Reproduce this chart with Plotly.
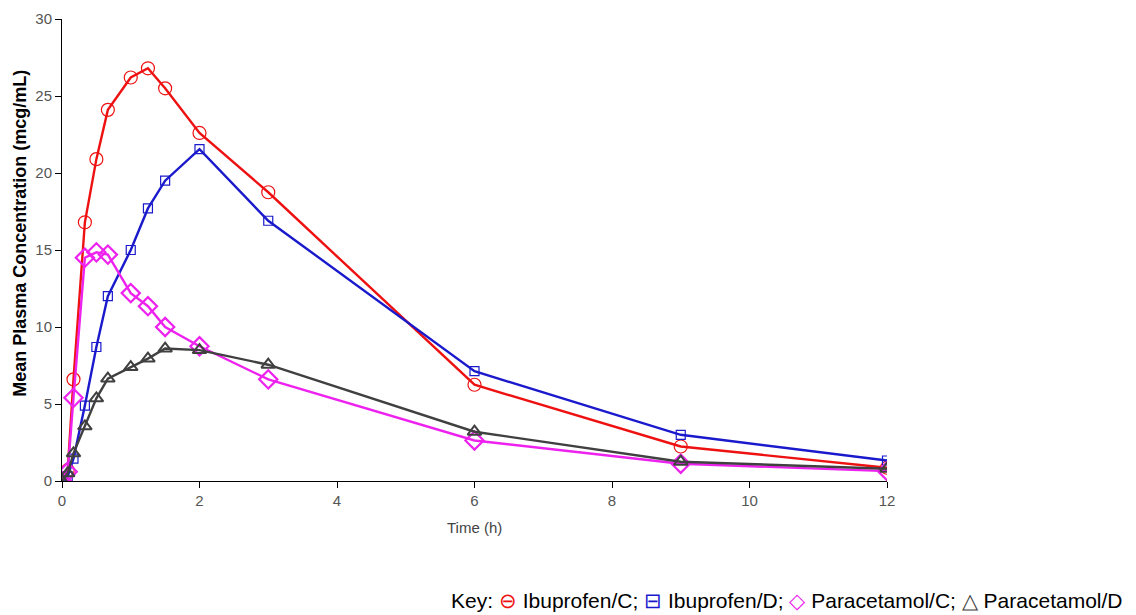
import plotly.graph_objects as go

time_h = [0, 0.083, 0.167, 0.333, 0.5, 0.667, 1, 1.25, 1.5, 2, 3, 6, 9, 12]
ibuprofen_c = [0, 0.7, 6.6, 16.8, 20.9, 24.1, 26.2, 26.8, 25.5, 22.6, 18.75, 6.25, 2.24, 0.86]
ibuprofen_d = [0, 0.3, 1.45, 4.9, 8.7, 12.0, 15.0, 17.7, 19.5, 21.55, 16.9, 7.13, 3.0, 1.33]
paracetamol_c = [0, 0.6, 5.4, 14.5, 14.85, 14.7, 12.2, 11.35, 10.0, 8.75, 6.6, 2.63, 1.12, 0.64]
paracetamol_d = [0, 0.5, 1.8, 3.55, 5.37, 6.65, 7.4, 7.95, 8.6, 8.5, 7.55, 3.2, 1.25, 0.8]

series = [
    ("Ibuprofen/C", ibuprofen_c, "#ee1111", "circle-open", 13, 1.2),
    ("Ibuprofen/D", ibuprofen_d, "#1a1acc", "square-open", 9, 1.2),
    ("Paracetamol/C", paracetamol_c, "#ee22ee", "diamond-open", 14, 2.2),
    ("Paracetamol/D", paracetamol_d, "#404040", "triangle-up-open", 12, 2.0),
]

fig = go.Figure()
for name, vals, col, sym, sz, mlw in series:
    fig.add_trace(go.Scatter(
        x=time_h, y=vals, name=name, mode="lines+markers",
        line=dict(color=col, width=2.4),
        marker=dict(symbol=sym, size=sz, color=col, line=dict(color=col, width=mlw)),
        showlegend=False,
    ))

font_fam = "Liberation Sans, Arial, sans-serif"
# page has an 8px body margin: figure origin sits at (8, 8)
fig.update_layout(
    width=1128, height=607,
    margin=dict(l=54, r=249, t=11, b=134, autoexpand=False),
    paper_bgcolor="white", plot_bgcolor="white",
    font=dict(family=font_fam, color="#333333", size=15),
    xaxis=dict(range=[0, 12], dtick=2, tick0=0, showgrid=False, zeroline=False,
               showline=True, linecolor="black", linewidth=1,
               ticks="outside", ticklen=6, tickcolor="black",
               tickfont=dict(size=15, color="#555555")),
    yaxis=dict(range=[0, 30], dtick=5, tick0=0, showgrid=False, zeroline=False,
               showline=True, linecolor="black", linewidth=1,
               ticks="outside", ticklen=6, tickcolor="black",
               tickfont=dict(size=15, color="#555555")),
)

fig.add_annotation(xref="paper", yref="paper", x=-0.0509, y=0.535,
                   text="<b>Mean Plasma Concentration (mcg/mL)</b>", textangle=-90,
                   showarrow=False, xanchor="center", yanchor="middle",
                   font=dict(size=18, color="black", family=font_fam))
fig.add_annotation(xref="paper", yref="paper", x=0.5, y=-0.0996,
                   text="Time (h)", showarrow=False, xanchor="center", yanchor="middle",
                   font=dict(size=15, color="#444444", family=font_fam))

key_text = ("Key: <span style='color:#ee1111'>⊖</span> Ibuprofen/C; "
            "<span style='color:#1a1acc'>⊟</span> Ibuprofen/D; "
            "<span style='color:#ee22ee'>◇</span> Paracetamol/C; "
            "<span style='color:#404040'>△</span> Paracetamol/D")
fig.add_annotation(xref="paper", yref="paper", x=1.2885, y=-0.2597,
                   text=key_text, showarrow=False, xanchor="right", yanchor="middle",
                   font=dict(size=21, color="black", family=font_fam))

fig.write_html("out.html")
